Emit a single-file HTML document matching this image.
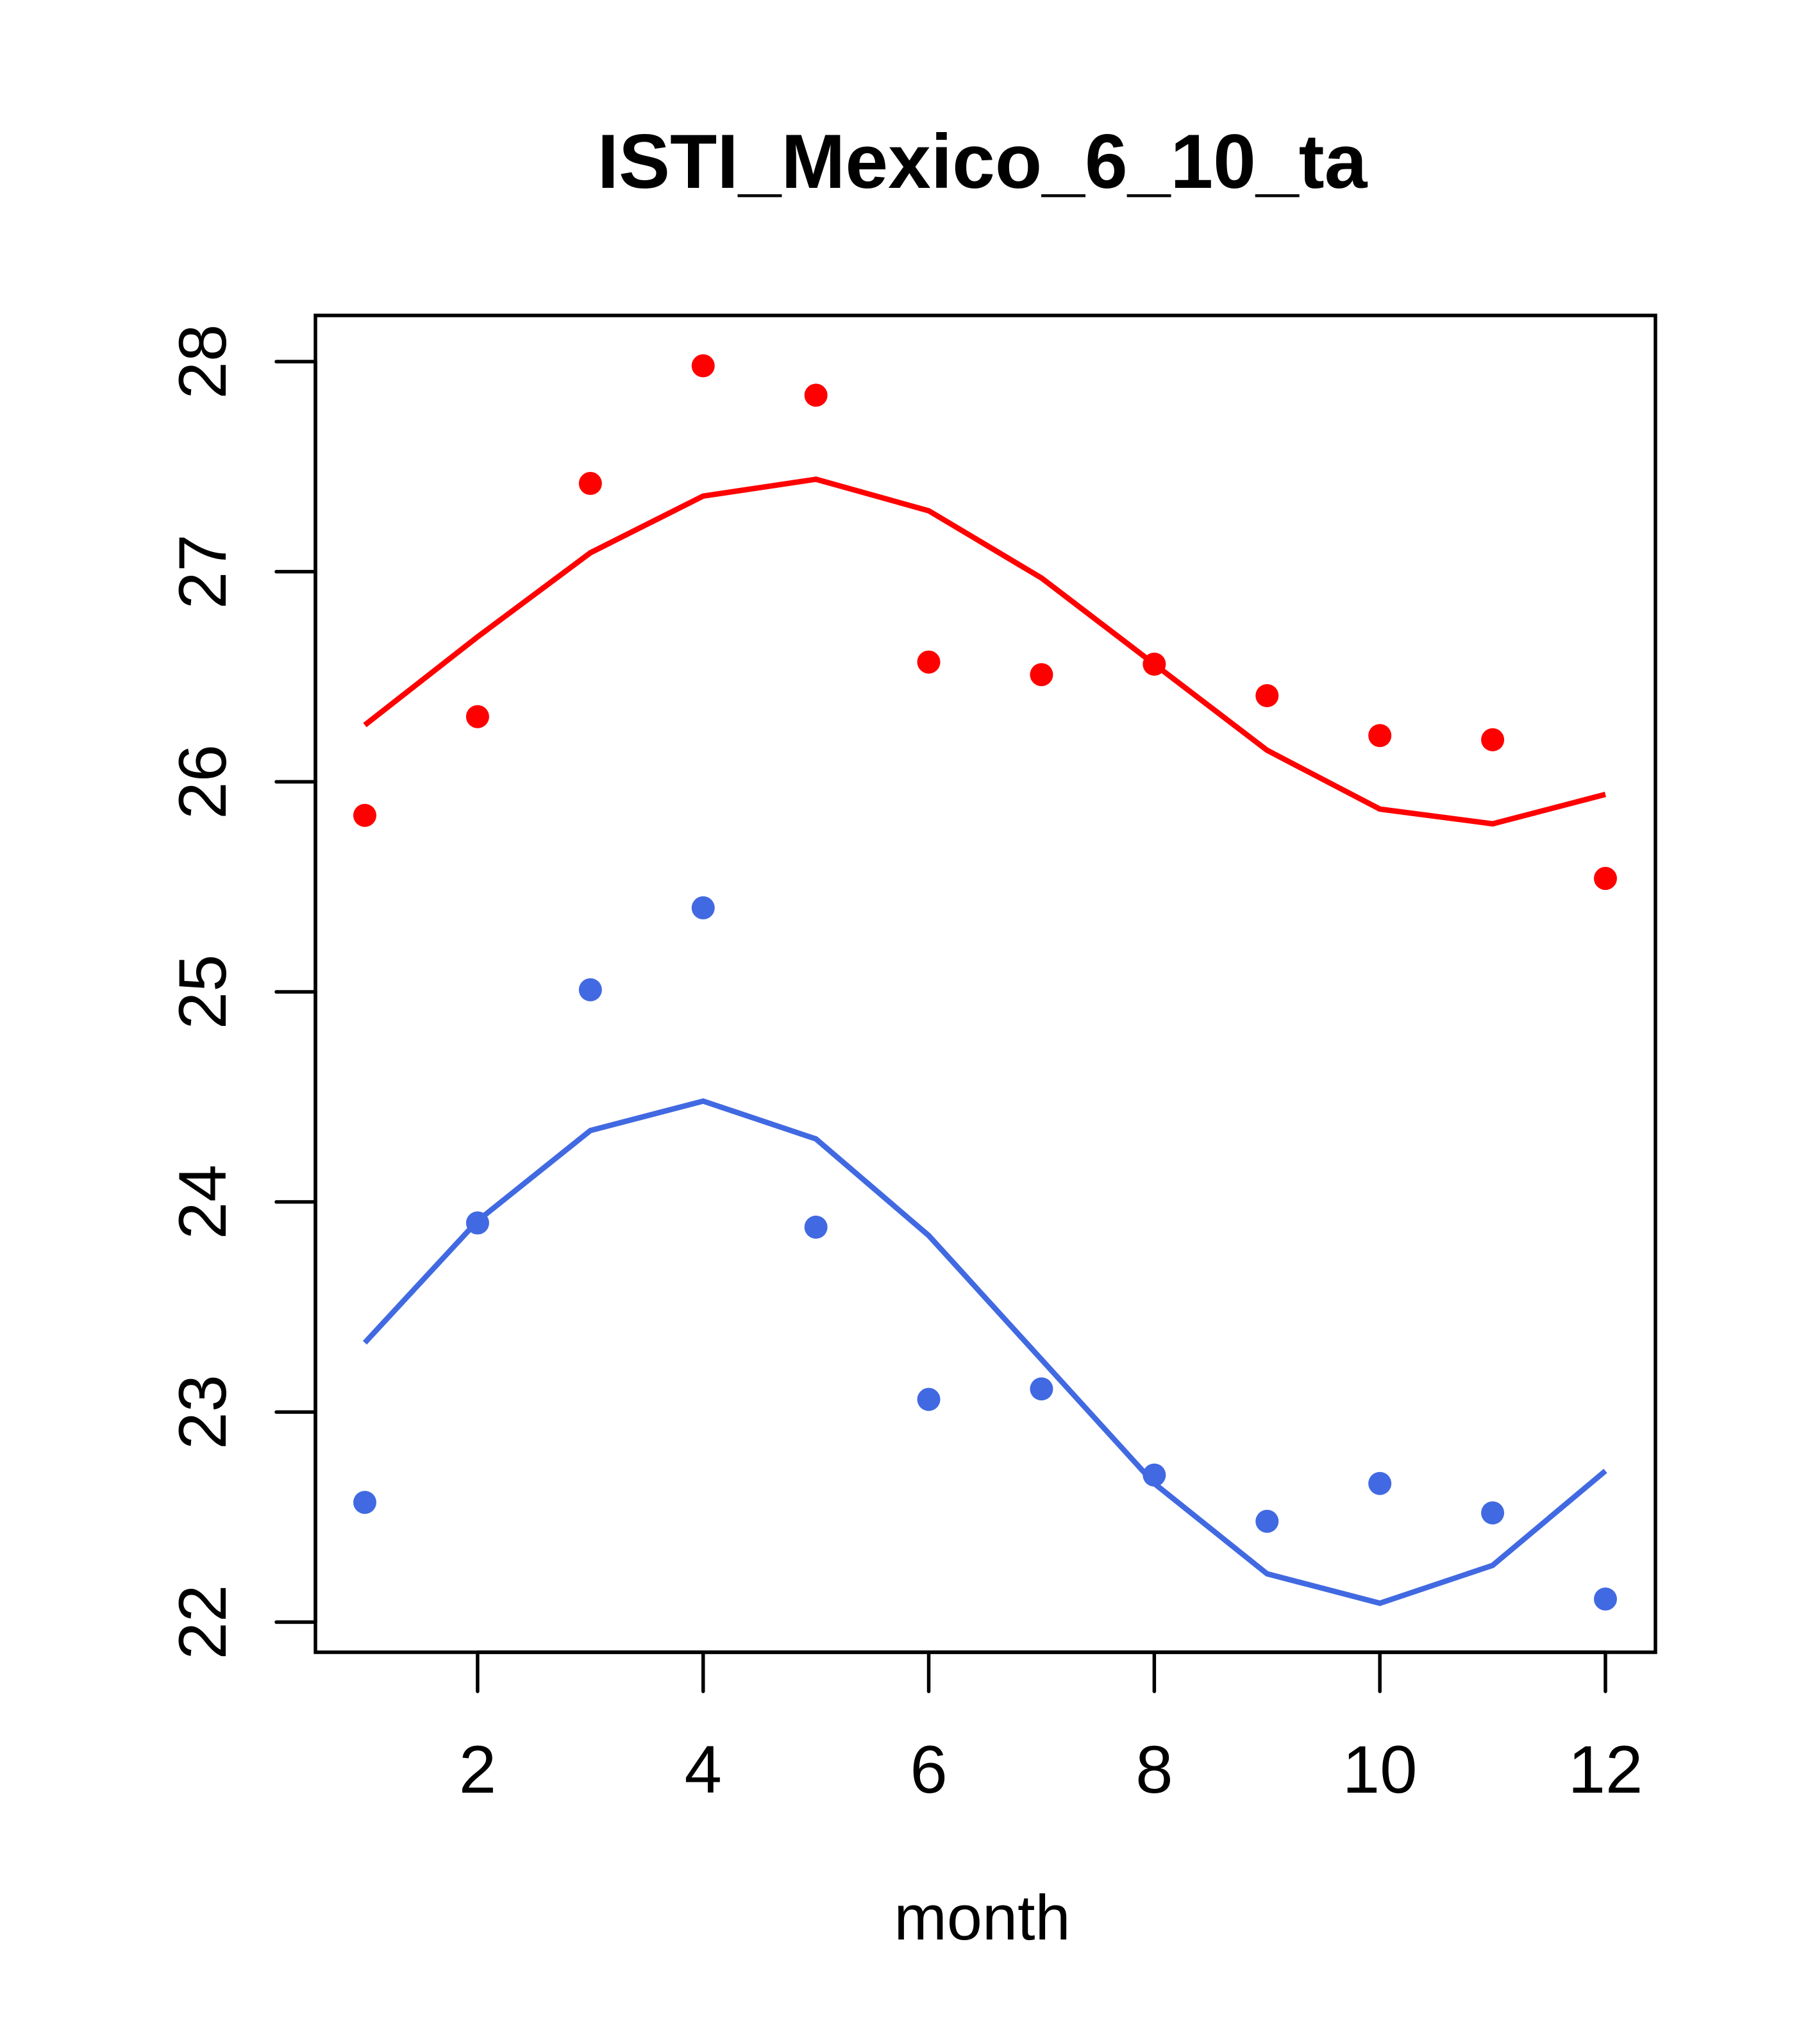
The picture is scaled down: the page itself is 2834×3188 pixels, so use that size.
<!DOCTYPE html>
<html><head><meta charset="utf-8"><style>
body{margin:0;background:#fff}
svg{display:block;font-family:"Liberation Sans",Arial,sans-serif}
</style></head><body>
<svg id="chart" width="2834" height="3188" viewBox="0 0 2834 3188">
<text x="1532" y="293" font-size="120" font-weight="bold" text-anchor="middle">ISTI_Mexico_6_10_ta</text>
<rect x="492" y="492" width="2090" height="2085" fill="none" stroke="#000" stroke-width="5.5"/>
<g id="xaxis"></g>
<g id="yaxis"></g>
<g id="series"></g>
<text x="1532" y="3025" font-size="99" text-anchor="middle">month</text>
</svg>
<script>
const months=[1,2,3,4,5,6,7,8,9,10,11,12];
const redPoints=[25.84,26.31,27.42,27.98,27.84,26.57,26.51,26.56,26.41,26.22,26.20,25.54];
const redLine=[26.27,26.69,27.09,27.36,27.44,27.29,26.97,26.56,26.15,25.87,25.80,25.94];
const bluePoints=[22.57,23.90,25.01,25.40,23.88,23.06,23.11,22.70,22.48,22.66,22.52,22.11];
const blueLine=[23.33,23.91,24.34,24.48,24.30,23.84,23.25,22.66,22.23,22.09,22.27,22.72];
const xTicks=[2,4,6,8,10,12];
const yTicks=[22,23,24,25,26,27,28];
const NS="http://www.w3.org/2000/svg";
function xs(m){return 569+(m-1)*(2504-569)/11;}
function ys(v){return 2530-(v-22)*(2530-564)/6;}
function mk(tag,attrs,parent){const e=document.createElementNS(NS,tag);for(const k in attrs)e.setAttribute(k,attrs[k]);parent.appendChild(e);return e;}
const xa=document.getElementById('xaxis'),ya=document.getElementById('yaxis'),se=document.getElementById('series');
mk('line',{x1:xs(2),x2:xs(12),y1:2577,y2:2577,stroke:'#000','stroke-width':5.5},xa);
xTicks.forEach(t=>{
 const l=mk('line',{x1:xs(t),x2:xs(t),y1:2577,y2:2638,stroke:'#000','stroke-width':5.5,'stroke-linecap':'round'},xa);
 
 
 const tx=mk('text',{x:xs(t),y:2796,'font-size':105,'text-anchor':'middle'},xa);tx.textContent=t;
 
 
});
mk('line',{x1:492,x2:492,y1:ys(22),y2:ys(28),stroke:'#000','stroke-width':5.5},ya);
yTicks.forEach(t=>{
 const l=mk('line',{x1:431,x2:492,y1:ys(t),y2:ys(t),stroke:'#000','stroke-width':5.5,'stroke-linecap':'round'},ya);
 
 
 const tx=mk('text',{x:0,y:0,'font-size':105,'text-anchor':'middle',transform:`translate(352,${ys(t)}) rotate(-90)`},ya);tx.textContent=t;
 
 
});
function line(vals,color,name){
 const p=mk('polyline',{points:vals.map((v,i)=>xs(months[i])+','+ys(v)).join(' '),fill:'none',stroke:color,'stroke-width':8.5},se);
 
 
}
function pts(vals,color,name){
 vals.forEach((v,i)=>{
  const c=mk('circle',{cx:xs(months[i]),cy:ys(v),r:18,fill:color},se);
  
  
 });
}
line(redLine,'#ff0000','red-line');
line(blueLine,'#4169e1','blue-line');
pts(redPoints,'#ff0000','red-point');
pts(bluePoints,'#4169e1','blue-point');
</script>
</body></html>
